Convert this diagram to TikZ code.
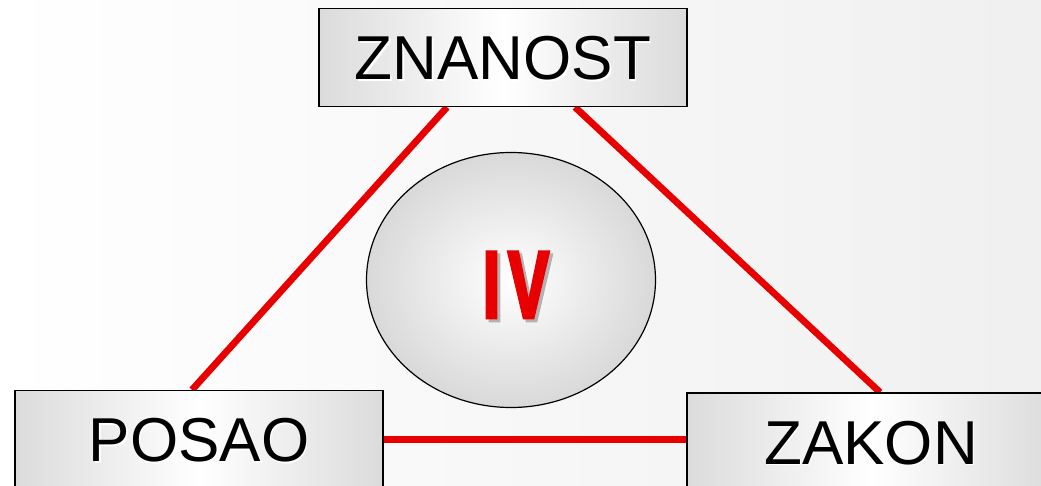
\documentclass[tikz,border=0pt]{standalone}
\usepackage{fontspec}
\setmainfont{Liberation Sans}
\newfontfamily\ivfont{Liberation Sans Bold}[FakeStretch=0.64,FakeBold=3]
\usetikzlibrary{shapes.geometric,calc}
\definecolor{lred}{RGB}{232,0,0}
\pgfdeclarelayer{bg}
\pgfdeclarelayer{lines}
\pgfsetlayers{bg,lines,main}
\newcommand\shtext[3]{\makebox[0pt][l]{\hspace{#3}\raisebox{-#3}{\color{#1}#2}}#2}
\begin{document}
\begin{tikzpicture}[x=1pt,y=-1pt,
  box/.style={draw=black,line width=1.3pt,left color=black!14,right color=black!14,middle color=white,
    minimum width=368pt,minimum height=98pt,inner sep=0pt,text height=44.4pt,text depth=0pt,
    font=\fontsize{62}{62}\selectfont},
  link/.style={draw=lred,line width=6.8pt},
  oval/.style={ellipse,draw=black,line width=1.2pt,minimum width=289pt,minimum height=255pt,inner sep=0pt,
    inner color=white,outer color=black!15}]
\begin{pgfonlayer}{bg}
\fill[left color=white,right color=black!6] (0,0) rectangle (1041,486);
\end{pgfonlayer}
\useasboundingbox (0,0) rectangle (1041,486);
\node[box] (zn) at (503,57.5) {\shtext{white}{ZNANOST}{1.5pt}};
\node[box] (po) at (199,439.5) {\shtext{white}{POSAO}{1.5pt}};
\node[box] (za) at (871,442) {\shtext{white}{ZAKON}{1.5pt}};
\node[oval] (ov) at (511,280) {};
\node[text=lred,inner sep=0pt,text height=68.7pt,text depth=0pt,font=\ivfont\fontsize{96}{96}\selectfont] (iv) at (516,283.5)
  {\shtext{black!30}{I\kern8pt V}{3pt}};
\begin{pgfonlayer}{lines}
\draw[link] ([xshift=-56pt]zn.south) -- ([xshift=-7pt]po.north);
\draw[link] ([xshift=72pt]zn.south) -- ([xshift=9pt]za.north);
\draw[link] (po.east) -- (po.east -| za.west);
\end{pgfonlayer}
\end{tikzpicture}
\end{document}
